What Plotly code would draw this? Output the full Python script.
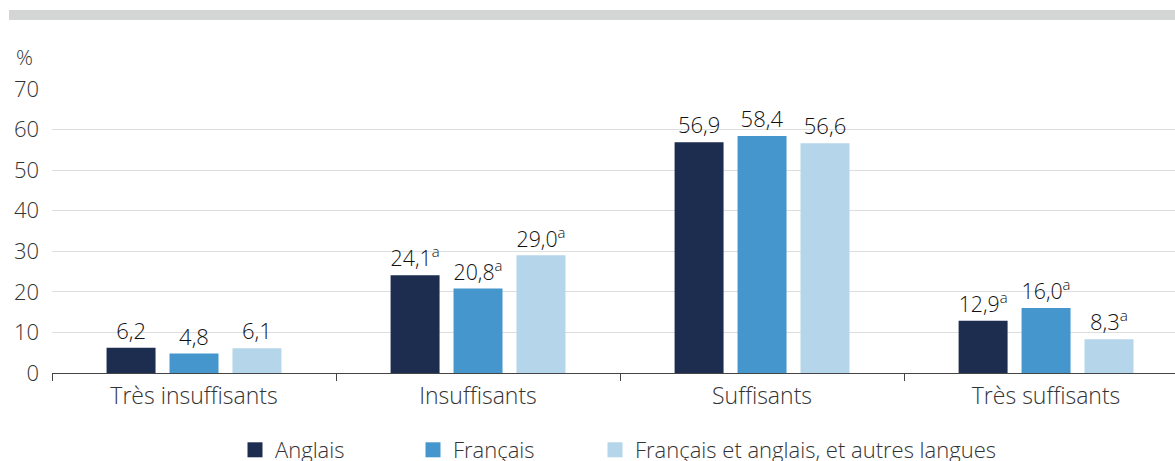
import plotly.graph_objects as go

categories = ["Très insuffisants", "Insuffisants", "Suffisants", "Très suffisants"]
series_names = ["Anglais", "Français", "Français et anglais, et autres langues"]
anglais = [6.2, 24.1, 56.9, 12.9]
francais = [4.8, 20.8, 58.4, 16.0]
autres = [6.1, 29.0, 56.6, 8.3]
anglais_flag = ["", "a", "", "a"]
francais_flag = ["", "a", "", "a"]
autres_flag = ["", "a", "", "a"]
y_ticks = [0, 10, 20, 30, 40, 50, 60, 70]

colors = ["#1d2d50", "#4596cc", "#b5d5ea"]
legend_ids = ["legend", "legend2", "legend3"]
legend_px = [235, 413, 595]  # left pixel of each legend box

W, H = 1175, 461
ML, MT, MB = 52, 89, 88
PW, PH = W - ML, H - MT - MB

def fmt(v, f):
    s = f"{v:.1f}".replace(".", ",")
    return s + (f"<sup>{f}</sup>" if f else "")

fig = go.Figure()
for name, vals, flags, col, lg in zip(series_names, [anglais, francais, autres],
                                      [anglais_flag, francais_flag, autres_flag], colors, legend_ids):
    fig.add_trace(go.Bar(
        x=categories, y=vals, name=name, marker_color=col, marker_line_width=0,
        text=[fmt(v, f) for v, f in zip(vals, flags)],
        textposition="outside", cliponaxis=False,
        textfont=dict(size=22, color="#111111", family="Open Sans"),
        hoverinfo="skip", showlegend=False,
    ))
    # legend-only entry with a square swatch
    fig.add_trace(go.Scatter(
        x=[None], y=[None], mode="markers", name=name,
        marker=dict(symbol="square", size=15, color=col, line_width=0),
        legend=lg, showlegend=True, hoverinfo="skip",
    ))

legend_common = dict(orientation="h", xanchor="left", yanchor="middle",
                      y=-(450 - (H - MB)) / PH, bgcolor="rgba(0,0,0,0)",
                      font=dict(size=22, color="#333333", family="Open Sans", weight=300),
                      itemwidth=30, itemsizing="trace")
layout_legends = {}
for lg, px in zip(legend_ids, legend_px):
    layout_legends[lg] = dict(legend_common, x=(px - ML) / PW)

fig.update_layout(
    width=W, height=H,
    margin=dict(l=ML, r=0, t=MT, b=MB, autoexpand=False),
    paper_bgcolor="white", plot_bgcolor="white",
    font=dict(family="Open Sans", size=22, color="#333333", weight=300),
    barmode="group", bargap=0.335, bargroupgap=0.222,
    shapes=[dict(type="rect", xref="paper", yref="paper",
                 x0=(9 - ML) / PW, x1=1.0, y0=1 + (MT - 20) / PH, y1=1 + (MT - 10) / PH,
                 fillcolor="#d4d5d5", line_width=0, layer="above")],
    annotations=[dict(text="%", xref="paper", yref="paper", x=(14 - ML) / PW,
                      y=1 + (MT - 57) / PH,
                      xanchor="left", yanchor="middle", showarrow=False,
                      font=dict(size=21, color="#333333", weight=300))],
    **layout_legends,
)

fig.update_xaxes(
    type="category", range=[-0.5, 3.454], tickson="boundaries",
    ticks="outside", ticklen=7, tickcolor="#444444", tickwidth=1,
    showline=True, linecolor="#444444", linewidth=1,
    showgrid=False, ticklabelstandoff=2, automargin=False,
    tickfont=dict(size=23, color="#333333", weight=300),
)
fig.update_yaxes(
    range=[0, 70], tickvals=y_ticks, showgrid=True, gridcolor="#dedede", gridwidth=1,
    zeroline=False, showline=False, ticks="", ticklabelstandoff=12, automargin=False,
    tickfont=dict(size=22, color="#333333", weight=300),
)

fig.write_html("out.html", config={"displayModeBar": False},
               post_script="document.body.style.margin='0';document.body.style.padding='0';")
